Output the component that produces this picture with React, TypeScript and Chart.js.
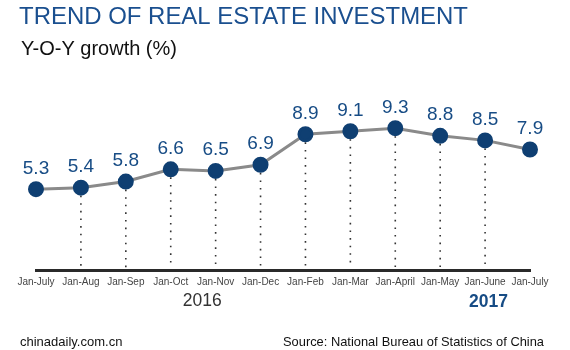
import React, { useEffect, useRef } from "react";
import { Chart, registerables } from "chart.js";

Chart.register(...registerables);

const categories = ["Jan-July", "Jan-Aug", "Jan-Sep", "Jan-Oct", "Jan-Nov", "Jan-Dec", "Jan-Feb", "Jan-Mar", "Jan-April", "Jan-May", "Jan-June", "Jan-July"];
const growth = [5.3, 5.4, 5.8, 6.6, 6.5, 6.9, 8.9, 9.1, 9.3, 8.8, 8.5, 7.9];
const valueLabels = ["5.3", "5.4", "5.8", "6.6", "6.5", "6.9", "8.9", "9.1", "9.3", "8.8", "8.5", "7.9"];
const title = "TREND OF REAL ESTATE INVESTMENT";
const subtitle = "Y-O-Y growth (%)";
const year1 = "2016";
const year2 = "2017";
const siteText = "chinadaily.com.cn";
const sourceText = "Source: National Bureau of Statistics of China";

const FONT = "'Liberation Sans', Arial, sans-serif";
const BLUE = "#174c85";

const overlay = {
  id: "overlay",
  beforeDatasetsDraw(chart: any) {
    const ctx = chart.ctx;
    const meta = chart.getDatasetMeta(0);
    const bottom = chart.chartArea.bottom;
    ctx.save();
    ctx.strokeStyle = "#333";
    ctx.lineWidth = 1.6;
    ctx.setLineDash([1.6, 6]);
    meta.data.forEach((p: any, i: number) => {
      if (i === 0 || i === meta.data.length - 1) return;
      ctx.beginPath();
      ctx.moveTo(p.x, p.y + 8);
      ctx.lineTo(p.x, bottom - 2);
      ctx.stroke();
    });
    ctx.restore();
  },
  afterDatasetsDraw(chart: any) {
    const ctx = chart.ctx;
    const meta = chart.getDatasetMeta(0);
    ctx.save();
    ctx.fillStyle = BLUE;
    ctx.font = `19px ${FONT}`;
    ctx.textAlign = "center";
    ctx.textBaseline = "alphabetic";
    meta.data.forEach((p: any, i: number) => {
      ctx.fillText(valueLabels[i], p.x, p.y - 15.5);
    });
    ctx.restore();
  },
  afterDraw(chart: any) {
    const ctx = chart.ctx;
    ctx.save();
    ctx.textBaseline = "alphabetic";
    ctx.textAlign = "left";
    ctx.fillStyle = "#1a4f8f";
    ctx.font = `24px ${FONT}`;
    ctx.fillText(title, 19, 24, 449);
    ctx.fillStyle = "#111";
    ctx.font = `20px ${FONT}`;
    ctx.fillText(subtitle, 21, 55);
    const xs = chart.scales.x;
    ctx.textAlign = "center";
    ctx.fillStyle = "#333";
    ctx.font = `17.5px ${FONT}`;
    ctx.fillText(year1, (xs.getPixelForValue(3) + xs.getPixelForValue(4)) / 2 + 9, 306);
    ctx.fillStyle = BLUE;
    ctx.font = `bold 17.5px ${FONT}`;
    ctx.fillText(year2, (xs.getPixelForValue(10) + xs.getPixelForValue(11)) / 2 - 19, 307);
    ctx.fillStyle = "#111";
    ctx.font = `13px ${FONT}`;
    ctx.textAlign = "left";
    ctx.fillText(siteText, 20, 346);
    ctx.fillText(sourceText, 283, 346, 261);
    ctx.restore();
  },
};

export default function App() {
  const ref = useRef<HTMLCanvasElement>(null);
  useEffect(() => {
    if (!ref.current) return;
    const chart = new Chart(ref.current, {
      type: "line",
      data: {
        labels: categories,
        datasets: [
          {
            data: growth,
            borderColor: "#8a8a8a",
            borderWidth: 3,
            pointBackgroundColor: "#0f3f72",
            pointBorderColor: "#0f3f72",
            pointRadius: 6.5,
            tension: 0,
          },
        ],
      },
      options: {
        responsive: false,
        animation: false,
        events: [],
        layout: { padding: { left: 36, right: 40, top: 87, bottom: 0 } },
        plugins: { legend: { display: false }, tooltip: { enabled: false } },
        scales: {
          x: {
            offset: false,
            grid: { display: false, drawTicks: false },
            border: { display: true, color: "#2a2a2a", width: 3 },
            ticks: { color: "#444", font: { family: FONT, size: 10 }, padding: 6, maxRotation: 0, autoSkip: false },
            afterFit: (scale: any) => {
              scale.height = 80;
            },
          },
          y: { display: false, min: 0, max: 12 },
        },
      },
      plugins: [overlay],
    });
    return () => chart.destroy();
  }, []);
  return (
    <div style={{ position: "absolute", left: 0, top: 0, width: 570, height: 350, background: "#fff" }}>
      <canvas ref={ref} width={570} height={350} />
    </div>
  );
}
